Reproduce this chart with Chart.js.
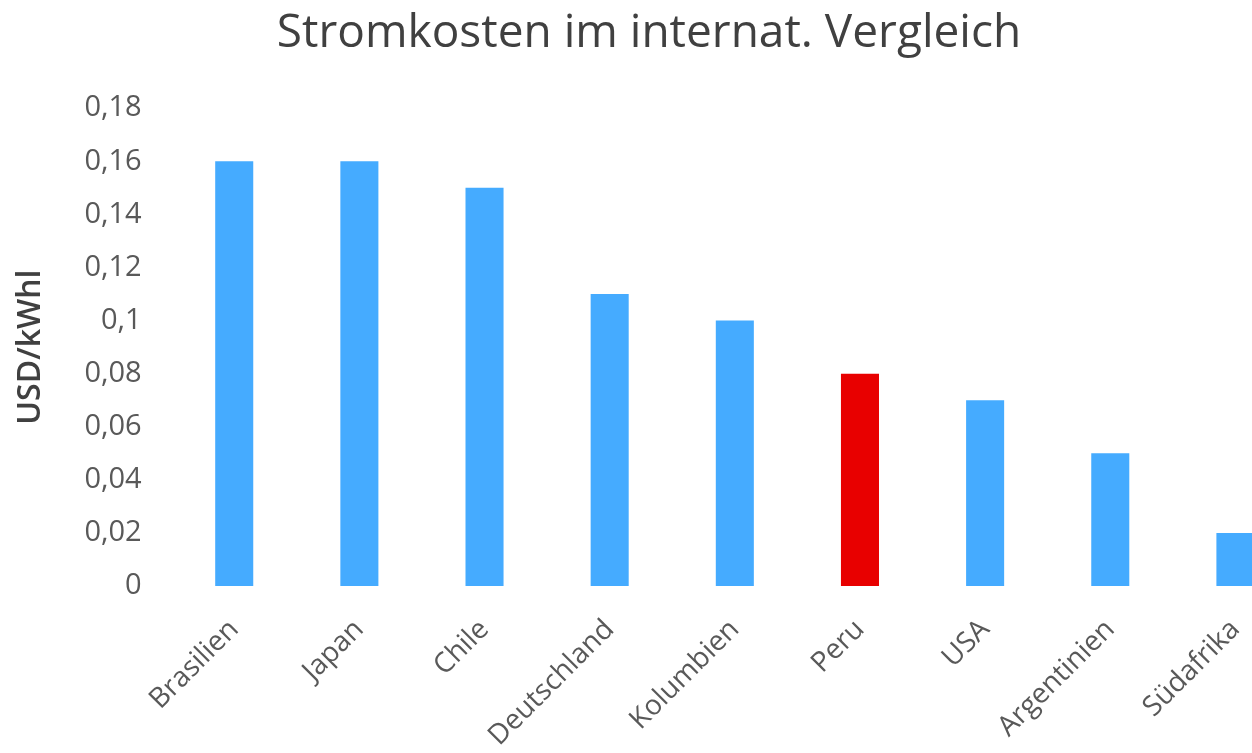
<!DOCTYPE html>
<html>
<head>
<meta charset="utf-8">
<script src="https://cdn.jsdelivr.net/npm/chart.js@4"></script>
<style>
  html, body { margin: 0; padding: 0; overflow: hidden; background: #fff; }
  #myChart { display: block; }
</style>
</head>
<body>
<canvas id="myChart" width="1300" height="753"></canvas>
<script>
const countries = ["Brasilien", "Japan", "Chile", "Deutschland", "Kolumbien", "Peru", "USA", "Argentinien", "Südafrika"];
const costs = [0.16, 0.16, 0.15, 0.11, 0.10, 0.08, 0.07, 0.05, 0.02];
const highlight = "Peru";

const blue = "#45abff";
const red = "#e80000";

new Chart("myChart", {
    type: "bar",
    data: {
        labels: countries,
        datasets: [{
            label: "USD/kWhl",
            data: costs,
            backgroundColor: countries.map(c => c === highlight ? red : blue),
            barPercentage: 0.304,
            categoryPercentage: 1
        }]
    },
    options: {
        responsive: false,
        animation: false,
        layout: { padding: { left: 0, right: 2, top: 0, bottom: 0 } },
        plugins: {
            legend: { display: false },
            tooltip: { enabled: false },
            title: {
                display: true,
                text: "Stromkosten im internat. Vergleich",
                color: "#404040",
                font: { family: "Open Sans", size: 46, weight: "normal" },
                padding: { top: 6, bottom: 47 }
            }
        },
        scales: {
            x: {
                grid: { display: false, drawTicks: false },
                border: { display: false },
                ticks: {
                    color: "#595959",
                    font: { family: "Open Sans", size: 28 },
                    maxRotation: 45,
                    minRotation: 45,
                    padding: 27
                },
                // the reference cuts the long labels off at the bottom edge
                afterFit: scale => { scale.height = 167; }
            },
            y: {
                min: 0,
                max: 0.18,
                grid: { display: false, drawTicks: false },
                border: { display: false },
                ticks: {
                    stepSize: 0.02,
                    color: "#595959",
                    font: { family: "Open Sans", size: 29 },
                    padding: 30,
                    callback: v => String(Number(v.toFixed(2))).replace(".", ",")
                },
                title: {
                    display: true,
                    text: "USD/kWhl",
                    color: "#404040",
                    font: { family: "Open Sans", size: 32, weight: 600 },
                    padding: { top: 12, bottom: 4 }
                }
            }
        }
    }
});
</script>
</body>
</html>
